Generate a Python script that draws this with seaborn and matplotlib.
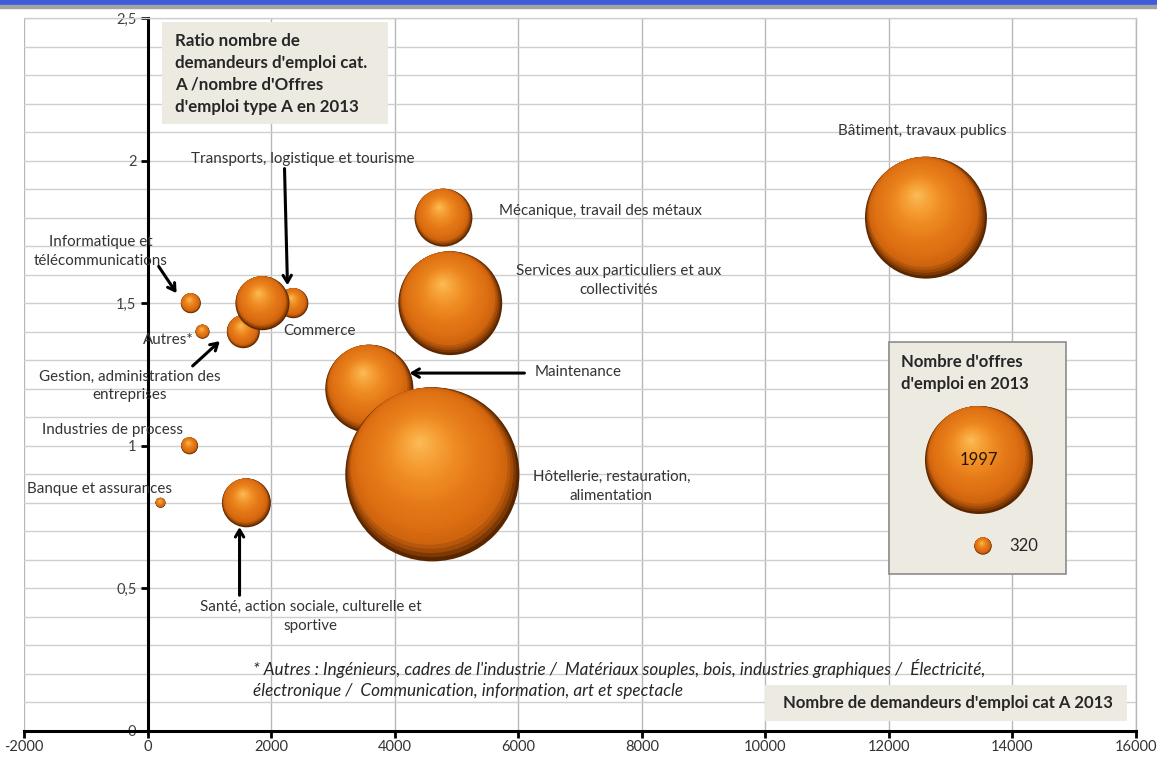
import numpy as np
import pandas as pd
import matplotlib
matplotlib.use("Agg")
import matplotlib.pyplot as plt
from matplotlib.patches import Rectangle, FancyArrowPatch
from matplotlib.colors import to_rgb, to_hex
import seaborn as sns

# --- data -------------------------------------------------------------
sectors = [
    "Informatique et\ntélécommunications",
    "Autres*",
    "Gestion, administration des\nentreprises",
    "Commerce",
    "Transports, logistique et tourisme",
    "Industries de process",
    "Banque et assurances",
    "Santé, action sociale, culturelle et\nsportive",
    "Mécanique, travail des métaux",
    "Services aux particuliers et aux\ncollectivités",
    "Maintenance",
    "Hôtellerie, restauration,\nalimentation",
    "Bâtiment, travaux publics",
]
demandeurs = [700, 890, 1550, 1860, 2360, 680, 210, 1600, 4790, 4900, 3590, 4610, 12600]
ratio = [1.5, 1.4, 1.4, 1.5, 1.5, 1.0, 0.8, 0.8, 1.8, 1.5, 1.2, 0.9, 1.8]
offres = [370, 260, 610, 1000, 555, 315, 185, 905, 1070, 1920, 1630, 3220, 2255]

legend_values = [1997, 320]

x_ticks = [-2000, 0, 2000, 4000, 6000, 8000, 10000, 12000, 14000, 16000]
x_tick_labels = ["-2000", "0", "2000", "4000", "6000", "8000", "10000", "12000", "14000", "16000"]
y_ticks = [0, 0.5, 1, 1.5, 2, 2.5]
y_tick_labels = ["0", "0,5", "1", "1,5", "2", "2,5"]

title_text = "Ratio nombre de\ndemandeurs d'emploi cat.\nA /nombre d'Offres\nd'emploi type A en 2013"
xtitle_text = "Nombre de demandeurs d'emploi cat A 2013"
legend_title = "Nombre d'offres\nd'emploi en 2013"
footnote_lines = [
    "* Autres : Ingénieurs, cadres de l'industrie /  Matériaux souples, bois, industries graphiques /  Électricité,",
    "électronique /  Communication, information, art et spectacle",
]

# --- label layout: text position, optional arrow start/end (data units) -----
label_pos = [
    (-760, 1.682, (180, 1.629), (470, 1.535)),
    (330, 1.371, None, None),
    (-290, 1.210, (730, 1.280), (1170, 1.367)),
    (2790, 1.402, None, None),
    (2508, 2.007, (2217, 1.972), (2265, 1.563)),
    (-566, 1.056, None, None),
    (-777, 0.850, None, None),
    (2638, 0.402, (1489, 0.476), (1489, 0.715)),
    (7330, 1.822, None, None),
    (7621, 1.580, None, None),
    (6974, 1.259, (6100, 1.255), (4240, 1.255)),
    (7508, 0.857, None, None),
    (12540, 2.105, None, None),
]

# --- style ------------------------------------------------------------
DPI = 100
BUBBLE_PX = 54 / 1997          # bubble radius in pixels per job offer
UX, UY = -0.376, 0.927          # direction of the highlight on the spheres
N_SHADE = 40
shade_rho = np.linspace(1.0, 0.03, N_SHADE)
shade_lam = np.interp(shade_rho, [0, 0.5, 0.88, 1.0], [0.4, 0.5, 1.0, 1.0])
anchor_rho = [0.0, 0.2, 0.4, 0.6, 0.8, 0.9, 0.95, 1.0]
anchor_col = np.array([to_rgb(c) for c in
                       ["#FDBE5A", "#F6A238", "#EE8A22", "#E57A18", "#DD6F12",
                        "#CF640E", "#A04A08", "#5A2600"]])
shade_cols = [to_hex([np.interp(r, anchor_rho, anchor_col[:, i]) for i in range(3)])
              for r in shade_rho]
shade_palette = {f"s{k:02d}": c for k, c in enumerate(shade_cols)}
TXT = "#333333"

sns.set_theme(style="white")
plt.rcParams["font.family"] = ["Lato", "DejaVu Sans"]

fig = plt.figure(figsize=(11.57, 7.6), dpi=DPI)
ax = fig.add_axes([24 / 1157, 29 / 760, 1112 / 1157, 713 / 760])
ax.set_xlim(-2000, 16000)
ax.set_ylim(0, 2.5)

# header band
fig.patches.append(Rectangle((0, 1 - 5 / 760), 1, 5 / 760, transform=fig.transFigure,
                             color="#3D5BDA", zorder=0))
fig.patches.append(Rectangle((0, 1 - 8 / 760), 1, 3 / 760, transform=fig.transFigure,
                             color="#A3A3A3", zorder=0))

# axes, grid
ax.set_xticks(x_ticks)
ax.set_xticklabels(x_tick_labels)
ax.set_yticks(y_ticks)
ax.set_yticklabels(y_tick_labels)
ax.set_yticks(np.arange(0, 2.51, 0.1), minor=True)
ax.set_axisbelow(True)
ax.grid(axis="x", which="major", color="#B8B8B8", lw=1)
ax.grid(axis="y", which="both", color="#CFCFCF", lw=1)
ax.spines["left"].set_position(("data", 0))
for s in ["left", "bottom"]:
    ax.spines[s].set_linewidth(2.2)
    ax.spines[s].set_color("black")
ax.spines["top"].set_color("#CFCFCF")
ax.spines["top"].set_linewidth(1)
ax.spines["right"].set_color("#B8B8B8")
ax.spines["right"].set_linewidth(1)
ax.tick_params(axis="y", which="major", left=True, direction="out", length=5, width=2,
               color="black", labelsize=10.5, labelcolor="#404040", pad=3)
ax.tick_params(axis="y", which="minor", left=False, length=0)
ax.tick_params(axis="x", which="major", bottom=True, direction="out", length=5, width=2,
               color="black", labelsize=10.5, labelcolor=TXT, pad=1.5)


def sphere_frame(centers_px, values):
    rows = []
    for (cx, cy), v in zip(centers_px, values):
        r = v * BUBBLE_PX
        for k, (rho, lam) in enumerate(zip(shade_rho, shade_lam)):
            d = (1 - rho) * lam * r
            rows.append((cx + d * UX, cy + d * UY, (2 * rho * r * 72 / DPI) ** 2, f"s{k:02d}"))
    df = pd.DataFrame(rows, columns=["px", "py", "s", "shade"])
    xy = ax.transData.inverted().transform(df[["px", "py"]].to_numpy())
    df["x"] = xy[:, 0]
    df["y"] = xy[:, 1]
    return df


# data bubbles, smaller ones behind
bub = pd.DataFrame({"x": demandeurs, "y": ratio, "v": offres}).sort_values("v")
centers = ax.transData.transform(bub[["x", "y"]].to_numpy())
layers = sphere_frame(centers, bub["v"])
sns.scatterplot(data=layers, x="x", y="y", hue="shade", palette=shade_palette,
                s=layers["s"].to_numpy(), linewidth=0, edgecolor="none",
                legend=False, ax=ax, zorder=3)

# labels and arrows
for name, (tx, ty, a0, a1) in zip(sectors, label_pos):
    ax.text(tx, ty, name, ha="center", va="center", fontsize=10.9, color=TXT,
            linespacing=1.45, zorder=6)
    if a0 is not None:
        ax.add_patch(FancyArrowPatch(a0, a1, arrowstyle="->,head_length=5,head_width=3",
                                     lw=2.2, color="black", shrinkA=0, shrinkB=0,
                                     zorder=6))

# title box
ax.add_patch(Rectangle((0.1241, 0.8513), 0.2032, 0.1431, transform=ax.transAxes,
                       facecolor="#EDEAE2", edgecolor="none", zorder=4))
ax.text(0.1358, 0.979, title_text, transform=ax.transAxes, ha="left", va="top",
        fontsize=12.2, fontweight="bold", color="#262626", linespacing=1.45, zorder=5)

# x-axis title box
ax.add_patch(Rectangle((0.6664, 0.0140), 0.3255, 0.0505, transform=ax.transAxes,
                       facecolor="#EDEAE2", edgecolor="none", zorder=4))
ax.text(0.831, 0.0393, xtitle_text, transform=ax.transAxes, ha="center", va="center",
        fontsize=12, fontweight="bold", color="#262626", zorder=5)

# footnote, one text per line
for line, fy in zip(footnote_lines, [0.087, 0.0561]):
    ax.text(0.206, fy, line, transform=ax.transAxes, ha="left", va="center",
            fontsize=12.3, style="italic", color="#262626", zorder=5)

# size legend
ax.add_patch(Rectangle((0.7779, 0.2202), 0.1592, 0.3254, transform=ax.transAxes,
                       facecolor="#EDEAE2", edgecolor="#8C8C8C", lw=1.2, zorder=7))
ax.text(0.7887, 0.529, legend_title, transform=ax.transAxes, ha="left", va="top",
        fontsize=12, fontweight="bold", color="#262626", linespacing=1.5, zorder=8)
leg_centers = ax.transAxes.transform([(0.8588, 0.3801), (0.8624, 0.2595)])
leg_layers = sphere_frame(leg_centers, legend_values)
sns.scatterplot(data=leg_layers, x="x", y="y", hue="shade", palette=shade_palette,
                s=leg_layers["s"].to_numpy(), linewidth=0, edgecolor="none",
                legend=False, ax=ax, zorder=8)
ax.text(0.8588, 0.3801, str(legend_values[0]), transform=ax.transAxes, ha="center",
        va="center", fontsize=12, color="#2A1400", zorder=9)
ax.text(0.8993, 0.2595, str(legend_values[1]), transform=ax.transAxes, ha="center",
        va="center", fontsize=12, color="#262626", zorder=9)

# seaborn names the axes after the columns; the reference has no axis labels
ax.set_xlabel("")
ax.set_ylabel("")
ax.set_xlim(-2000, 16000)
ax.set_ylim(0, 2.5)
fig.savefig("out.png", dpi=DPI)
